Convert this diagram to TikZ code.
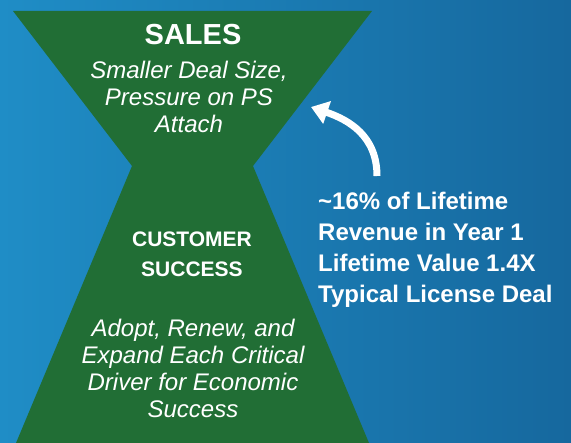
\documentclass[tikz,border=0pt]{standalone}
\usepackage{fontspec}
\setmainfont{Liberation Sans}
\usepackage{tikz}
\usetikzlibrary{arrows.meta}
\usepackage{xcolor}
\definecolor{bgleft}{RGB}{31,141,198}
\definecolor{bgright}{RGB}{22,104,158}
\definecolor{hourgreen}{RGB}{33,110,53}

\begin{document}
\begin{tikzpicture}[x=1pt, y=-1pt,
    label/.style={white, inner sep=0pt, anchor=base, align=center},
    sidetext/.style={white, inner sep=0pt, anchor=base west, align=left,
      font=\fontsize{24}{31.3}\selectfont\bfseries}]
      % Background
      \useasboundingbox (0,0) rectangle (571,443);
      \shade[left color=bgleft, right color=bgright] (0,0) rectangle (571,443);

      % Hourglass
      \fill[hourgreen] (13,11) -- (372,11) -- (253,166) -- (369,443)
        -- (16,443) -- (132,166) -- cycle;

      % Top half: sales (multi-line nodes sit on their last baseline)
      \node[label, font=\fontsize{29}{32}\selectfont\bfseries] (sales) at (193,45) {SALES};
      \node[label, font=\fontsize{24}{27}\selectfont\itshape] (salesnote) at (189,133)
        {Smaller Deal Size,\\Pressure on PS\\Attach};

      % Bottom half: customer success
      \node[label, font=\fontsize{21}{30}\selectfont\bfseries] (cs) at (192,277)
        {CUSTOMER\\SUCCESS};
      \node[label, font=\fontsize{24}{27}\selectfont\itshape] (csnote) at (193,418)
        {Adopt, Renew, and\\Expand Each Critical\\Driver for Economic\\Success};

      % Lifetime figures and arrow
      \node[sidetext] (lifetime) at (318,303)
        {\textasciitilde16\% of Lifetime\\Revenue in Year 1\\Lifetime Value 1.4X\\Typical License Deal};
      \coordinate (tail) at (377,176);
      \coordinate (tip) at (311,107);
      \draw[white, line width=7pt, -{Triangle[length=17pt, width=23pt]}]
        (tail) .. controls (377,136) and (349,120) .. (tip);
    \end{tikzpicture}
\end{document}
